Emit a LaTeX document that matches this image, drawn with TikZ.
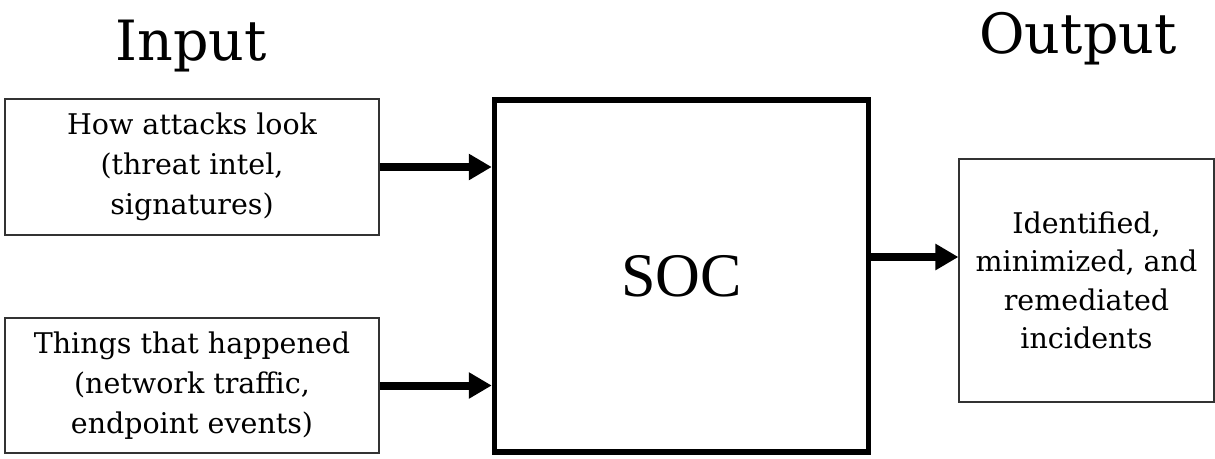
\documentclass[tikz,border=0pt]{standalone}
\usepackage{fontspec}
\setmainfont{DejaVu Serif}
\newfontfamily\socfont{Liberation Serif}
\usetikzlibrary{arrows.meta}
\begin{document}
\begin{tikzpicture}[x=1pt,y=-1pt,
  thinbox/.style={draw=black!80, line width=1.2pt, align=center, inner sep=0pt,
    font=\fontsize{28.5}{40}\selectfont},
  title/.style={font=\fontsize{55.5}{60}\selectfont, inner sep=0pt, anchor=base},
  arr/.style={line width=8pt, -{Triangle[length=23pt,width=25pt]}}]
\useasboundingbox (0,0) rectangle (1215,458);
\node[title] (tin) at (191,60) {Input};
\node[title] (tout) at (1078,53) {Output};
\node[thinbox, minimum width=374pt, minimum height=136pt] (in1) at (192,167)
  {How attacks look\\(threat intel,\\signatures)};
\node[thinbox, minimum width=374pt, minimum height=135pt] (in2) at (192,385.5)
  {Things that happened\\(network traffic,\\endpoint events)};
\node[draw, line width=5.5pt, minimum width=374pt, minimum height=352pt, inner sep=0pt,
  font=\socfont\fontsize{62}{70}\selectfont] (soc) at (681.5,276) {SOC};
\node[thinbox, minimum width=255pt, minimum height=243pt,
  font=\fontsize{28.5}{38.5}\selectfont] (out) at (1086.5,280.5)
  {Identified,\\minimized, and\\remediated\\incidents};
\draw[arr] (in1.east) -- (in1.east -| soc.west);
\draw[arr] (in2.east) -- (in2.east -| soc.west);
\draw[arr] ([yshift=19pt]soc.east) -- ([yshift=19pt]soc.east -| out.west);
\end{tikzpicture}
\end{document}
